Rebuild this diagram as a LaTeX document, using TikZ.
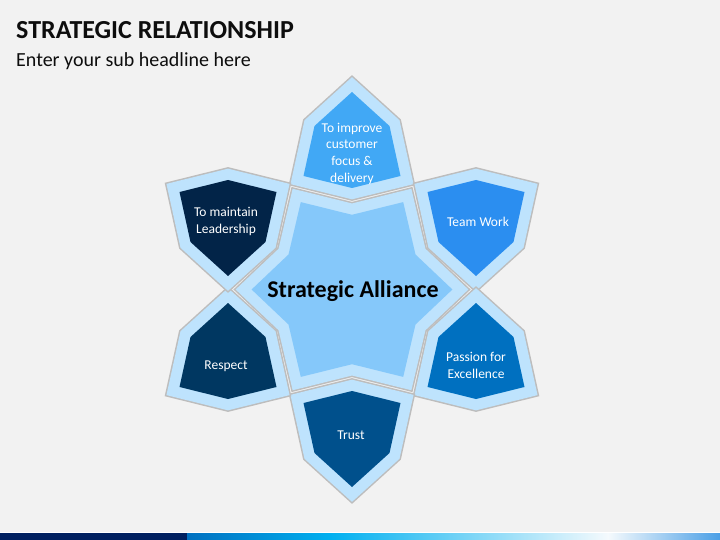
\documentclass[tikz,border=0pt]{standalone}
\usepackage{fontspec}
\setmainfont{Carlito}
\definecolor{bg}{HTML}{F2F2F2}
\definecolor{band}{HTML}{BEE3FD}
\definecolor{rim}{HTML}{BDBDBD}
\definecolor{core}{HTML}{85C8FA}
\definecolor{cTop}{HTML}{41A8F5}
\definecolor{cTeam}{HTML}{2B8EF0}
\definecolor{cPass}{HTML}{0070C0}
\definecolor{cTrust}{HTML}{00508C}
\definecolor{cResp}{HTML}{003761}
\definecolor{cLead}{HTML}{022448}
\definecolor{ink}{HTML}{0D0D0D}
\definecolor{barNavy}{HTML}{002060}
\definecolor{barBlue}{HTML}{0070C0}
\definecolor{barCyan}{HTML}{00B0F0}
\definecolor{barPale}{HTML}{F5FAFD}
\definecolor{barEnd}{HTML}{4A9FE6}
\newcommand\drawshape[2]{%
  \path[draw=rim, line width=25pt, line join=miter, miter limit=10] #2;
  \path[draw=band, line width=22pt, line join=miter, miter limit=10] #2;
  \path[fill=#1] #2;}
\newcommand\petal[4]{%
  \begin{scope}[shift={(#1,#2)}, yscale=#3]
    \drawshape{#4}{(0,-92) -- (37.5,-58) -- (48.5,-8) -- (0,4) -- (-48.5,-8) -- (-37.5,-58) -- cycle}
  \end{scope}}
\tikzset{
  petaltext/.style={text=white, align=center, font=\fontsize{13.5}{16.7}\selectfont, inner sep=0pt},
}
\begin{document}
\begin{tikzpicture}[x=1pt, y=-1pt]
\useasboundingbox (0,0) rectangle (720,540);
\fill[bg] (0,0) rectangle (720,540);
% title
\node[anchor=base west, inner sep=0pt, text=ink, font=\fontsize{26}{30}\selectfont\bfseries] (title) at (16,38.5) {STRATEGIC RELATIONSHIP};
\node[anchor=base west, inner sep=0pt, text=ink, font=\fontsize{20}{24}\selectfont] (sub) at (16,67) {Enter your sub headline here};
% centre star
\drawshape{core}{(300.8,202.1) -- (352,214.8) -- (403.2,202.1) -- (415.5,254.5) -- (452.4,289.5) -- (415.5,324.5) -- (403.2,376.9) -- (352,364.2) -- (300.8,376.9) -- (288.5,324.5) -- (251.6,289.5) -- (288.5,254.5) -- cycle}
% petals
\petal{352}{184}{1}{cTop}
\petal{476}{184}{-1}{cTeam}
\petal{476}{395}{1}{cPass}
\petal{352}{395}{-1}{cTrust}
\petal{228}{395}{1}{cResp}
\petal{228}{184}{-1}{cLead}
% texts
\node[text=black, font=\fontsize{24}{28}\selectfont\bfseries, inner sep=0pt] (core) at (353,291) {Strategic Alliance};
\node[petaltext] (tTop) at (352,153.5) {To improve\\customer\\focus \&\\delivery};
\node[petaltext] (tTeam) at (478,222) {Team Work};
\node[petaltext] (tPass) at (476,365.5) {Passion for\\Excellence};
\node[petaltext] (tTrust) at (351,435) {Trust};
\node[petaltext] (tResp) at (226,366) {Respect};
\node[petaltext] (tLead) at (226,221.5) {To maintain\\Leadership};
% bottom bar
\fill[white] (0,532) rectangle (720,533);
\fill[barNavy] (0,533) rectangle (187.5,540);
\shade[left color=barBlue, right color=barCyan] (187,533) rectangle (330.5,540);
\shade[left color=barCyan, right color=barPale] (330,533) rectangle (608.5,540);
\shade[left color=barPale, right color=barEnd] (608,533) rectangle (720,540);
\end{tikzpicture}
\end{document}
